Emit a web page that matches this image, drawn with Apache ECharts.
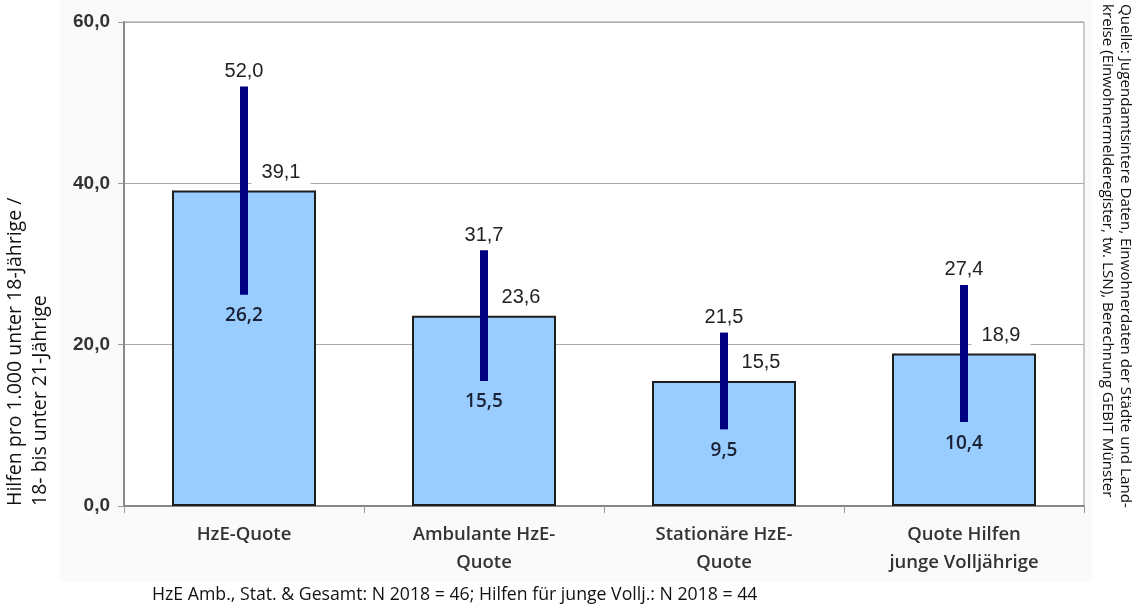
<!DOCTYPE html>
<html>
<head>
<meta charset="utf-8">
<script src="https://cdn.jsdelivr.net/npm/echarts@6/dist/echarts.min.js"></script>
<style>
  html, body { margin: 0; padding: 0; background: #fff; }
  #chart { width: 1136px; height: 608px; }
</style>
</head>
<body>
<div id="chart"></div>
<script>
// Categories and values (per 1,000 young people)
const categories = ['HzE-Quote', 'Ambulante HzE-\nQuote', 'Stationäre HzE-\nQuote', 'Quote Hilfen\njunge Volljährige'];
const averages = [39.1, 23.6, 15.5, 18.9];
const minimums = [26.2, 15.5, 9.5, 10.4];
const maximums = [52.0, 31.7, 21.5, 27.4];
const yTicks = [0, 20, 40, 60];

const fmt = v => v.toFixed(1).replace('.', ',');

const chart = echarts.init(document.getElementById('chart'), null, { renderer: 'canvas' });

const option = {
  animation: false,
  backgroundColor: '#fff',
  grid: {
    left: 124, right: 52, top: 22, bottom: 102,
    show: true, backgroundColor: '#fff', borderColor: '#999', borderWidth: 1
  },
  xAxis: {
    type: 'category',
    data: categories,
    axisLine: { lineStyle: { color: '#888', width: 2 } },
    axisTick: { show: true, length: 7, lineStyle: { color: '#999', width: 1 } },
    axisLabel: {
      color: '#333', fontFamily: 'Open Sans', fontWeight: 600, fontSize: 18.5,
      lineHeight: 28, margin: 15
    }
  },
  yAxis: {
    type: 'value',
    min: yTicks[0], max: yTicks[yTicks.length - 1], interval: yTicks[1] - yTicks[0],
    axisLine: { show: true, lineStyle: { color: '#888', width: 2 } },
    axisTick: { show: true, length: 6, lineStyle: { color: '#999' } },
    axisLabel: {
      color: '#333', fontFamily: 'Liberation Sans', fontWeight: 'bold', fontSize: 19,
      margin: 14, formatter: v => fmt(v)
    },
    splitLine: { lineStyle: { color: '#aaa', width: 1 } }
  },
  graphic: [
    { type: 'rect', z: -10, shape: { x: 60, y: 0, width: 1032, height: 582 }, style: { fill: '#fafafa' } },
    {
      type: 'text', x: 3, y: 506, rotation: Math.PI / 2,
      style: {
        text: 'Hilfen pro 1.000 unter 18-Jährige /\n18- bis unter 21-Jährige',
        fontFamily: 'Open Sans', fontSize: 19.5, lineHeight: 25,
        fill: '#111', textAlign: 'left', textVerticalAlign: 'top'
      }
    },
    {
      type: 'text', x: 1134, y: 4, rotation: -Math.PI / 2,
      style: {
        text: 'Quelle: Jugendamtsintere Daten, Einwohnerdaten der Städte und Land-\nkreise (Einwohnermelderegister, tw. LSN), Berechnung GEBIT Münster',
        fontFamily: 'Open Sans', fontSize: 15.2, lineHeight: 18,
        fill: '#111', textAlign: 'left', textVerticalAlign: 'top'
      }
    },
    {
      type: 'text', x: 152, y: 595,
      style: {
        text: 'HzE Amb., Stat. & Gesamt: N 2018 = 46; Hilfen für junge Vollj.: N 2018 = 44',
        fontFamily: 'Open Sans', fontSize: 17.7,
        fill: '#111', textAlign: 'left', textVerticalAlign: 'middle'
      }
    }
  ],
  series: [
    {
      type: 'bar',
      data: averages,
      barWidth: '60%',
      itemStyle: { color: '#99ccff', borderColor: '#1e1e1e', borderWidth: 2 },
      label: {
        show: true, position: 'top', distance: 0, offset: [37, -3],
        formatter: p => fmt(p.value),
        color: '#222', fontFamily: 'Liberation Sans', fontSize: 20,
        backgroundColor: '#fff', padding: [7, 10, 5, 10]
      },
      z: 2
    },
    {
      // range (minimum – maximum) drawn as a thick vertical line with its end values
      type: 'custom',
      z: 5,
      data: categories.map((c, i) => [i, minimums[i], maximums[i]]),
      renderItem: (params, api) => {
        const i = api.value(0);
        const lo = api.coord([i, api.value(1)]);
        const hi = api.coord([i, api.value(2)]);
        return {
          type: 'group',
          children: [
            {
              type: 'rect',
              shape: { x: lo[0] - 4, y: hi[1], width: 8, height: lo[1] - hi[1] },
              style: { fill: '#000080' }
            },
            {
              type: 'text', x: hi[0], y: hi[1] - 15,
              style: {
                text: fmt(api.value(2)), fill: '#222', fontFamily: 'Liberation Sans', fontSize: 20,
                textAlign: 'center', textVerticalAlign: 'middle'
              }
            },
            {
              type: 'text', x: lo[0], y: lo[1] + 21,
              style: {
                text: fmt(api.value(1)), fill: '#1c2236', fontFamily: 'Open Sans', fontWeight: 600, fontSize: 19,
                textAlign: 'center', textVerticalAlign: 'middle'
              }
            }
          ]
        };
      }
    }
  ]
};

chart.setOption(option);
</script>
</body>
</html>
